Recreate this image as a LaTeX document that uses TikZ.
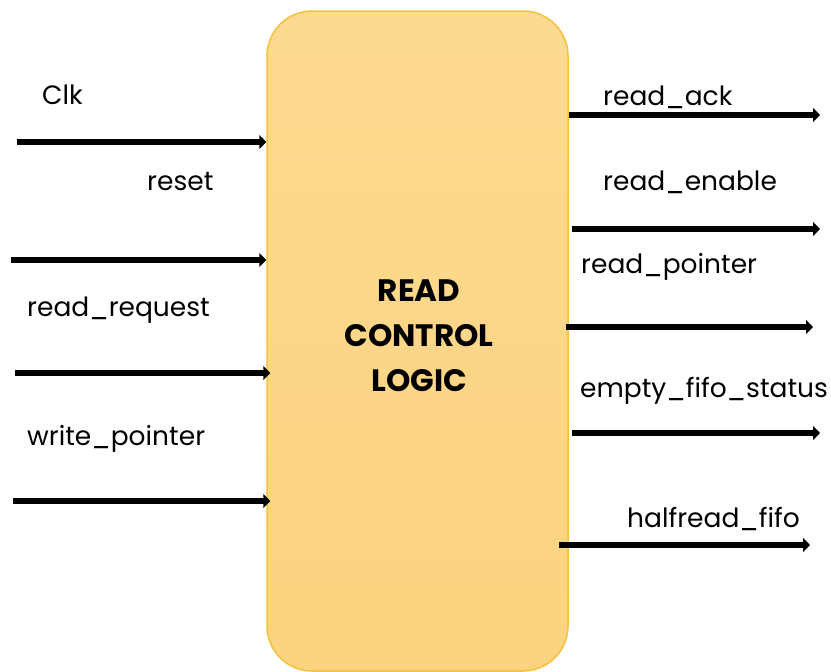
\documentclass[tikz,border=0pt]{standalone}
\usepackage{fontspec}
\setmainfont{Poppins}
\usetikzlibrary{arrows.meta,positioning,calc}
\definecolor{rclfill}{RGB}{253,218,146}
\definecolor{rclfilllow}{RGB}{252,211,126}
\definecolor{rcledge}{RGB}{243,193,60}
\tikzset{block/.style={draw=rcledge,line width=1.5pt,rounded corners=45pt,
    top color=rclfill,bottom color=rclfilllow,minimum width=301pt,minimum height=660pt},
  sig/.style={-{Triangle[length=7pt,width=14pt]},line width=6.8pt,black},
  siglabel/.style={font=\fontsize{26.5}{30}\selectfont,anchor=base west,inner sep=0pt}}

\begin{document}
\begin{tikzpicture}[x=1pt,y=-1pt]
\useasboundingbox (0,0) rectangle (831,672);
\node[block] (rcl) at (417.5,341) {};
\node[font=\bfseries\fontsize{31}{45}\selectfont,align=center] (title) at (419,336) {READ\\CONTROL\\LOGIC};
% inputs
\coordinate (clkin) at (17,142);
\coordinate (rstin) at (11,260);
\coordinate (reqin) at (15,373);
\coordinate (wptrin) at (13,501);
\node[siglabel] (clk) at (42,104) {Clk};
\node[siglabel] (rst) at (147,190) {reset};
\node[siglabel] (req) at (27,316) {read\_request};
\node[siglabel] (wptr) at (27,445) {write\_pointer};
\draw[sig] (clkin) -- (clkin -| rcl.west);
\draw[sig] (rstin) -- (rstin -| rcl.west);
\draw[sig] (reqin) -- ([xshift=4pt]reqin -| rcl.west);
\draw[sig] (wptrin) -- ([xshift=4pt]wptrin -| rcl.west);
% outputs
\coordinate (ackout) at (820,115);
\coordinate (enout) at (820,229);
\coordinate (rptrout) at (813,327);
\coordinate (emptyout) at (820,433);
\coordinate (halfout) at (810,545);
\node[siglabel] (ack) at (603,105) {read\_ack};
\node[siglabel] (en) at (603,190) {read\_enable};
\node[siglabel] (rptr) at (581,273) {read\_pointer};
\node[siglabel] (empty) at (580,397) {empty\_fifo\_status};
\node[siglabel] (half) at (627,527) {halfread\_fifo};
\draw[sig] (ackout -| rcl.east) -- (ackout);
\draw[sig] ([xshift=3pt]enout -| rcl.east) -- (enout);
\draw[sig] ([xshift=-3pt]rptrout -| rcl.east) -- (rptrout);
\draw[sig] ([xshift=3pt]emptyout -| rcl.east) -- (emptyout);
\draw[sig] ([xshift=-10pt]halfout -| rcl.east) -- (halfout);
\end{tikzpicture}
\end{document}
